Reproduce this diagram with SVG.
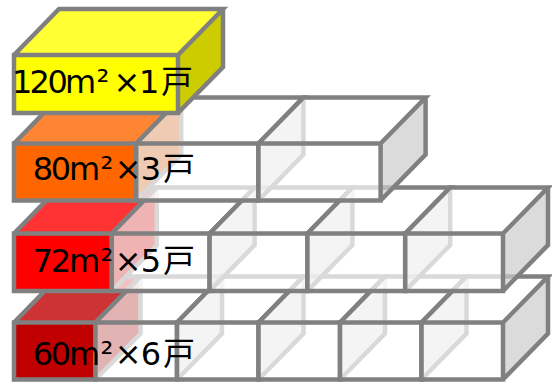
<svg xmlns="http://www.w3.org/2000/svg" width="552" height="383" viewBox="0 0 552 383">
<style>
.wf{fill:#fff;fill-opacity:.7}
.wr{fill:#ccc;fill-opacity:.7}
.e{fill:none;stroke:#808080;stroke-width:4.5;stroke-linejoin:miter}
.t{font-family:"DejaVu Sans","Noto Sans CJK JP",sans-serif;font-size:32px;fill:#000}
</style>
<rect width="552" height="383" fill="#fff"/>
<g id="row4">
<g id="r4c1">
<rect x="14" y="322.5" width="81.5" height="57" fill="#c00000"/>
<path d="M14 322.5l45 -46h81.5l-45 46Z" fill="#cd3333"/>
<path d="M95.5 322.5l45 -46v57l-45 46Z" fill="#9a0000"/>
<path class="e" d="M14 322.5h81.5v57h-81.5Zm0 0l45 -46h81.5l-45 46m45 -46v57l-45 46"/>
</g>
<g id="r4c2">
<rect class="wf" x="95.5" y="322.5" width="81.5" height="57"/>
<path class="wf" d="M95.5 322.5l45 -46h81.5l-45 46Z"/>
<path class="wr" d="M177 322.5l45 -46v57l-45 46Z"/>
<path class="e" d="M95.5 322.5h81.5v57h-81.5Zm0 0l45 -46h81.5l-45 46m45 -46v57l-45 46"/>
</g>
<g id="r4c3">
<rect class="wf" x="177" y="322.5" width="81.5" height="57"/>
<path class="wf" d="M177 322.5l45 -46h81.5l-45 46Z"/>
<path class="wr" d="M258.5 322.5l45 -46v57l-45 46Z"/>
<path class="e" d="M177 322.5h81.5v57h-81.5Zm0 0l45 -46h81.5l-45 46m45 -46v57l-45 46"/>
</g>
<g id="r4c4">
<rect class="wf" x="258.5" y="322.5" width="81.5" height="57"/>
<path class="wf" d="M258.5 322.5l45 -46h81.5l-45 46Z"/>
<path class="wr" d="M340 322.5l45 -46v57l-45 46Z"/>
<path class="e" d="M258.5 322.5h81.5v57h-81.5Zm0 0l45 -46h81.5l-45 46m45 -46v57l-45 46"/>
</g>
<g id="r4c5">
<rect class="wf" x="340" y="322.5" width="81.5" height="57"/>
<path class="wf" d="M340 322.5l45 -46h81.5l-45 46Z"/>
<path class="wr" d="M421.5 322.5l45 -46v57l-45 46Z"/>
<path class="e" d="M340 322.5h81.5v57h-81.5Zm0 0l45 -46h81.5l-45 46m45 -46v57l-45 46"/>
</g>
<g id="r4c6">
<rect class="wf" x="421.5" y="322.5" width="81.5" height="57"/>
<path class="wf" d="M421.5 322.5l45 -46h81.5l-45 46Z"/>
<path class="wr" d="M503 322.5l45 -46v57l-45 46Z"/>
<path class="e" d="M421.5 322.5h81.5v57h-81.5Zm0 0l45 -46h81.5l-45 46m45 -46v57l-45 46"/>
</g>
</g>
<g id="row3">
<g id="r3c1">
<rect x="14" y="233.5" width="97.8" height="57.5" fill="#ff0000"/>
<path d="M14 233.5l45 -46h97.8l-45 46Z" fill="#ff3333"/>
<path d="M111.8 233.5l45 -46v57.5l-45 46Z" fill="#cc0000"/>
<path class="e" d="M14 233.5h97.8v57.5h-97.8Zm0 0l45 -46h97.8l-45 46m45 -46v57.5l-45 46"/>
</g>
<g id="r3c2">
<rect class="wf" x="111.8" y="233.5" width="97.8" height="57.5"/>
<path class="wf" d="M111.8 233.5l45 -46h97.8l-45 46Z"/>
<path class="wr" d="M209.6 233.5l45 -46v57.5l-45 46Z"/>
<path class="e" d="M111.8 233.5h97.8v57.5h-97.8Zm0 0l45 -46h97.8l-45 46m45 -46v57.5l-45 46"/>
</g>
<g id="r3c3">
<rect class="wf" x="209.6" y="233.5" width="97.8" height="57.5"/>
<path class="wf" d="M209.6 233.5l45 -46h97.8l-45 46Z"/>
<path class="wr" d="M307.4 233.5l45 -46v57.5l-45 46Z"/>
<path class="e" d="M209.6 233.5h97.8v57.5h-97.8Zm0 0l45 -46h97.8l-45 46m45 -46v57.5l-45 46"/>
</g>
<g id="r3c4">
<rect class="wf" x="307.4" y="233.5" width="97.8" height="57.5"/>
<path class="wf" d="M307.4 233.5l45 -46h97.8l-45 46Z"/>
<path class="wr" d="M405.2 233.5l45 -46v57.5l-45 46Z"/>
<path class="e" d="M307.4 233.5h97.8v57.5h-97.8Zm0 0l45 -46h97.8l-45 46m45 -46v57.5l-45 46"/>
</g>
<g id="r3c5">
<rect class="wf" x="405.2" y="233.5" width="97.8" height="57.5"/>
<path class="wf" d="M405.2 233.5l45 -46h97.8l-45 46Z"/>
<path class="wr" d="M503 233.5l45 -46v57.5l-45 46Z"/>
<path class="e" d="M405.2 233.5h97.8v57.5h-97.8Zm0 0l45 -46h97.8l-45 46m45 -46v57.5l-45 46"/>
</g>
</g>
<g id="row2">
<g id="r2c1">
<rect x="14" y="143.5" width="122.2" height="57" fill="#ff6600"/>
<path d="M14 143.5l45 -46h122.2l-45 46Z" fill="#ff8533"/>
<path d="M136.2 143.5l45 -46v57l-45 46Z" fill="#cc5200"/>
<path class="e" d="M14 143.5h122.2v57h-122.2Zm0 0l45 -46h122.2l-45 46m45 -46v57l-45 46"/>
</g>
<g id="r2c2">
<rect class="wf" x="136.2" y="143.5" width="122.2" height="57"/>
<path class="wf" d="M136.2 143.5l45 -46h122.2l-45 46Z"/>
<path class="wr" d="M258.4 143.5l45 -46v57l-45 46Z"/>
<path class="e" d="M136.2 143.5h122.2v57h-122.2Zm0 0l45 -46h122.2l-45 46m45 -46v57l-45 46"/>
</g>
<g id="r2c3">
<rect class="wf" x="258.4" y="143.5" width="122.2" height="57"/>
<path class="wf" d="M258.4 143.5l45 -46h122.2l-45 46Z"/>
<path class="wr" d="M380.6 143.5l45 -46v57l-45 46Z"/>
<path class="e" d="M258.4 143.5h122.2v57h-122.2Zm0 0l45 -46h122.2l-45 46m45 -46v57l-45 46"/>
</g>
</g>
<g id="row1">
<g id="r1c1">
<rect x="14" y="55" width="164" height="58" fill="#ffff00"/>
<path d="M14 55l45 -46h164l-45 46Z" fill="#ffff33"/>
<path d="M178 55l45 -46v58l-45 46Z" fill="#cccc00"/>
<path class="e" d="M14 55h164v58h-164Zm0 0l45 -46h164l-45 46m45 -46v58l-45 46"/>
</g>
</g>
<g id="labels">
<text class="t" x="12 29.5 47.5 65 96.5 113.5 139 161" y="93">120m²×1戸</text>
<text class="t" x="32.8 50.8 69.1 100.5 114.8 140.8 163" y="180">80m²×3戸</text>
<text class="t" x="32.8 50.8 69.1 100.5 114.8 140.8 163" y="272">72m²×5戸</text>
<text class="t" x="32.8 50.8 69.1 100.5 114.8 140.8 163" y="365">60m²×6戸</text>
</g>
</svg>
